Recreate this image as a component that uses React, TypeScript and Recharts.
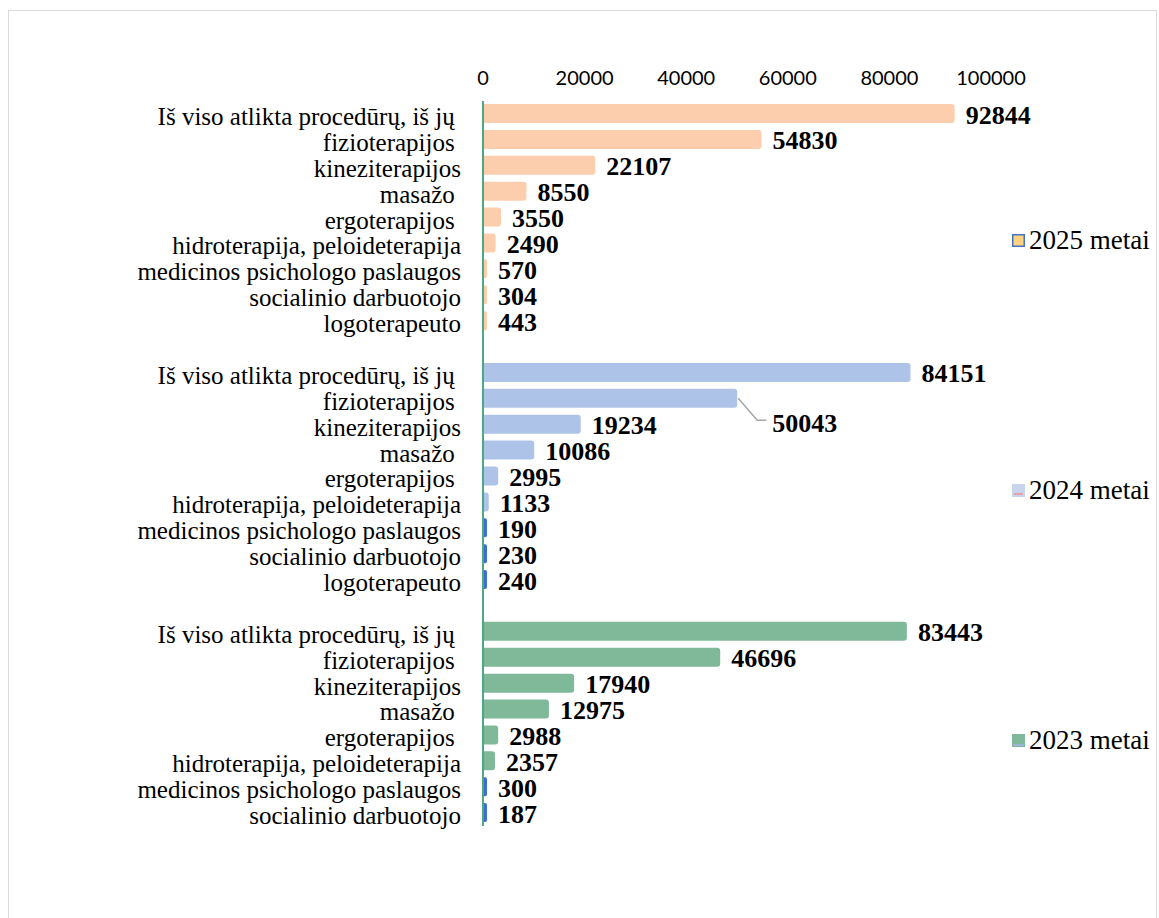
import React from 'react';
import { BarChart, Bar, XAxis, YAxis, Cell, LabelList, Legend } from 'recharts';

const categories = [
  'Iš viso atlikta procedūrų, iš jų ',
  'fizioterapijos ',
  'kineziterapijos',
  'masažo ',
  'ergoterapijos ',
  'hidroterapija, peloideterapija',
  'medicinos psichologo paslaugos',
  'socialinio darbuotojo',
  'logoterapeuto',
];
const years = ['2025 metai', '2024 metai', '2023 metai'];
const values2025 = [92844, 54830, 22107, 8550, 3550, 2490, 570, 304, 443];
const values2024 = [84151, 50043, 19234, 10086, 2995, 1133, 190, 230, 240];
const values2023 = [83443, 46696, 17940, 12975, 2988, 2357, 300, 187];
const xTicks = [0, 20000, 40000, 60000, 80000, 100000];

const yearColors: Record<string, string> = {
  '2025 metai': '#FDCEAD',
  '2024 metai': '#AEC3E8',
  '2023 metai': '#80B99A',
};
const smallBarColor = '#3C6FCF';
const leaderRowId = '2024 metai-1';

type Row = { id: string; label: string; value: number | null; year: string };
const groups: [string, number[]][] = [
  [years[0], values2025],
  [years[1], values2024],
  [years[2], values2023],
];
const rows: Row[] = [];
groups.forEach(([year, vals], gi) => {
  vals.forEach((v, i) => rows.push({ id: `${year}-${i}`, label: categories[i], value: v, year }));
  if (gi < groups.length - 1) rows.push({ id: `gap-${gi}`, label: '', value: null, year: '' });
});

const barColor = (r: Row) =>
  r.year !== years[0] && r.value !== null && r.value < 1000 ? smallBarColor : yearColors[r.year] || '#fff';

const serif = '"Liberation Serif", "Times New Roman", serif';

const CatTick = (props: any) => {
  const { x, y, payload } = props;
  const row = rows.find((r) => r.id === payload.value);
  return (
    <text
      x={x}
      y={y + 11}
      textAnchor="end"
      fontFamily={serif}
      fontSize={25}
      fill="#000"
      xmlSpace="preserve"
      style={{ whiteSpace: 'pre' }}
    >
      {row ? row.label : ''}
    </text>
  );
};

const ValueLabel = (props: any) => {
  const { x, y, width, height, value } = props;
  const row = rows.find((r) => r.id === value);
  if (!row || row.value === null) return null;
  const ex = Number(x) + Number(width);
  const cy = Number(y) + Number(height) / 2;
  const style = { fontFamily: serif, fontSize: 26, fontWeight: 700 as const, fill: '#000' };
  if (row.id === leaderRowId) {
    return (
      <g>
        <polyline
          points={`${ex + 1},${cy} ${ex + 20},${cy + 22} ${ex + 29},${cy + 22}`}
          fill="none"
          stroke="#A6A6A6"
          strokeWidth={1.5}
        />
        <text x={ex + 35} y={cy + 34} {...style}>
          {row.value}
        </text>
      </g>
    );
  }
  return (
    <text x={ex + 11} y={cy + 10} {...style}>
      {row.value}
    </text>
  );
};

const legendY = [240, 490, 740];

const LegendIcon = ({ year }: { year: string }) => {
  if (year === years[0]) {
    return (
      <svg width={13} height={13}>
        <rect x={0.75} y={0.75} width={11.5} height={11.5} fill="#FFD37F" stroke="#4472C4" strokeWidth={1.5} />
      </svg>
    );
  }
  if (year === years[1]) {
    return (
      <svg width={13} height={13}>
        <rect x={0} y={0} width={13} height={13} fill="#C7D4EE" />
        <rect x={2} y={9} width={9} height={2} fill="#E4A3AC" />
      </svg>
    );
  }
  return (
    <svg width={13} height={13}>
      <rect x={0} y={0} width={13} height={13} fill="#7FB89A" />
      <rect x={1} y={10} width={11} height={2} fill="#9DB4D8" />
    </svg>
  );
};

const LegendBox = () => (
  <div style={{ position: 'relative', width: 0, height: 0 }}>
    {years.map((yr, i) => (
      <div
        key={yr}
        style={{
          position: 'absolute',
          left: 1012,
          top: legendY[i] - 17,
          height: 34,
          display: 'flex',
          alignItems: 'center',
          whiteSpace: 'nowrap',
        }}
      >
        <LegendIcon year={yr} />
        <span style={{ fontFamily: serif, fontSize: 27, color: '#000', marginLeft: 4 }}>{yr}</span>
      </div>
    ))}
  </div>
);

export default function App() {
  return (
    <div style={{ position: 'absolute', left: 0, top: 0, width: 1159, height: 918, background: '#fff', overflow: 'hidden' }}>
      <div
        style={{
          position: 'absolute',
          left: 8,
          top: 10,
          width: 1147,
          height: 940,
          border: '1.5px solid #d9d9d9',
        }}
      />
      <div style={{ position: 'absolute', left: 0, top: 0 }}>
        <BarChart
          width={1159}
          height={918}
          data={rows}
          layout="vertical"
          margin={{ top: 71, right: 168, bottom: 92, left: 0 }}
          barSize={19}
        >
          <XAxis
            type="number"
            orientation="top"
            domain={[0, 100000]}
            ticks={xTicks}
            axisLine={false}
            tickLine={false}
            tickSize={0}
            tickMargin={16}
            interval={0}
            tick={{ fontFamily: 'Lato, sans-serif', fontSize: 20, fill: '#000' }}
          />
          <YAxis
            type="category"
            dataKey="id"
            width={483}
            interval={0}
            tickLine={false}
            tickSize={0}
            tickMargin={22}
            axisLine={{ stroke: '#4FA683', strokeWidth: 2 }}
            tick={<CatTick />}
          />
          <Legend content={() => <LegendBox />} wrapperStyle={{ position: 'absolute', left: 0, top: 0, width: 0, height: 0 }} />
          <Bar
            dataKey="value"
            isAnimationActive={false}
            radius={[0, 3, 3, 0]}
            minPointSize={(v: any) => (v ? 4 : 0)}
          >
            {rows.map((r) => (
              <Cell key={r.id} fill={barColor(r)} />
            ))}
            <LabelList dataKey="id" content={<ValueLabel />} />
          </Bar>
        </BarChart>
      </div>
    </div>
  );
}
